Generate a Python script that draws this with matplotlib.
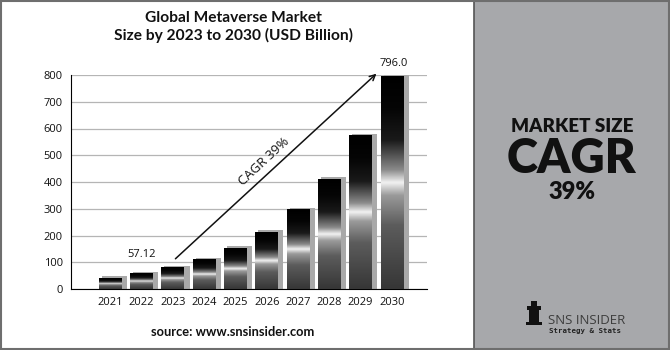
import numpy as np
import matplotlib.pyplot as plt
from matplotlib.colors import LinearSegmentedColormap
from matplotlib.patches import Rectangle

years = ['2021', '2022', '2023', '2024', '2025', '2026', '2027', '2028', '2029', '2030']
values = [41.0, 57.12, 79.4, 110.0, 153.0, 213.0, 296.0, 411.0, 572.0, 796.0]
yticks = [0, 100, 200, 300, 400, 500, 600, 700, 800]
title = 'Global Metaverse Market\nSize by 2023 to 2030 (USD Billion)'
cagr_text = 'CAGR 39%'

# vertical gradient used inside each bar (bottom -> top)
bar_cmap = LinearSegmentedColormap.from_list('barshade', [
    (0.0, '#363636'), (0.30, '#5c5c5c'), (0.44, '#9a9a9a'), (0.50, '#f2f2f2'),
    (0.56, '#8a8a8a'), (0.70, '#1a1a1a'), (0.85, '#050505'), (1.0, '#000000')])
grad = np.linspace(0, 1, 256).reshape(-1, 1)

fig = plt.figure(figsize=(6.7, 3.5), dpi=100)
fig.patch.set_facecolor('white')

# right grey panel + frame
fig.patches.append(Rectangle((474 / 670, 0), 1 - 474 / 670, 1, transform=fig.transFigure,
                             facecolor='#a7a8ab', edgecolor='none', zorder=0))
fig.add_artist(plt.Line2D([474 / 670, 474 / 670], [0, 1], color='#555555', lw=1.2))
fig.patches.append(Rectangle((0.001, 0.003), 0.997, 0.995, transform=fig.transFigure,
                             facecolor='none', edgecolor='#6e6e6e', lw=1.5, zorder=5))

ax = fig.add_axes([71 / 670, 1 - 289 / 350, 356 / 670, 214 / 350])
ax.set_facecolor('none')

x = np.arange(len(years))
w = 0.73
sw = 0.17
for xi, v in zip(x, values):
    # grey side/top shadow
    ax.add_patch(Rectangle((xi - w / 2 + 0.1, 0), w + sw - 0.1, v + 6,
                           facecolor='#a9a9a9', edgecolor='none', zorder=2))
    ax.imshow(grad, extent=(xi - w / 2, xi + w / 2, 0, v), origin='lower',
              cmap=bar_cmap, aspect='auto', zorder=3, interpolation='bilinear')

ax.set_xlim(-1.25, 10.12)
ax.set_ylim(0, 800)
ax.set_yticks(yticks)
ax.set_xticks(x)
ax.set_xticklabels(years)
ax.yaxis.grid(True, color='#b5b5b5', lw=0.9)
ax.set_axisbelow(True)
ax.tick_params(length=0, labelsize=8, pad=6, colors='#111111')
for s in ['top', 'right']:
    ax.spines[s].set_visible(False)
ax.spines['left'].set_color('#000000')
ax.spines['bottom'].set_color('#000000')
for lab in ax.get_xticklabels() + ax.get_yticklabels():
    lab.set_family('Open Sans')

# CAGR arrow and labels
ax.annotate('', xy=(8.57, 812), xytext=(2.02, 106),
            arrowprops=dict(arrowstyle='->', color='#111111', lw=1.1),
            annotation_clip=False, zorder=6)
ax.text(4.9, 478, cagr_text, rotation=43, ha='center', va='center',
        fontsize=9.5, family='Open Sans', color='#111111')
ax.text(1.02, 107, f'{values[1]:.2f}', ha='center', va='bottom', fontsize=8,
        family='Open Sans', color='#111111')
ax.text(9.05, 822, f'{values[-1]:.1f}', ha='center', va='bottom', fontsize=8,
        family='Open Sans', color='#111111', clip_on=False)

# title and source
fig.text(233 / 670, 1 - 27 / 350, title, ha='center', va='center', fontsize=11.2,
         fontweight='bold', family='Lato', linespacing=1.3, color='#111111')
fig.text(233 / 670, 1 - 332 / 350, 'source: www.snsinsider.com', ha='center', va='center',
         fontsize=9.3, fontweight='bold', family='Lato', color='#111111')

# right panel text
fig.text(572 / 670, 1 - 132 / 350, 'MARKET SIZE', ha='center', va='baseline',
         fontsize=13.5, fontweight='heavy', family='Lato', color='#111111')
fig.text(572 / 670, 1 - 173 / 350, 'CAGR', ha='center', va='baseline',
         fontsize=34, fontweight='heavy', family='Lato', color='#111111')
fig.text(572 / 670, 1 - 199 / 350, '39%', ha='center', va='baseline',
         fontsize=17, fontweight='heavy', family='Lato', color='#111111')

# logo
fig.text(548 / 670, 1 - 320 / 350, 'SNS INSIDER', ha='left', va='center',
         fontsize=9.5, family='Open Sans', color='#3d3d3d')
fig.text(549 / 670, 1 - 331 / 350, 'Strategy & Stats', ha='left', va='center',
         fontsize=5.3, family='DejaVu Sans Mono', fontweight='bold', color='#222222')
for (lx, ly, lw_, lh) in [(527, 306, 14, 4), (529, 310, 10, 12), (526, 322, 16, 3),
                          (531, 301, 6, 5)]:
    fig.patches.append(Rectangle((lx / 670, 1 - (ly + lh) / 350), lw_ / 670, lh / 350,
                                 transform=fig.transFigure, facecolor='#111111',
                                 edgecolor='none', zorder=4))

fig.savefig('out.png', dpi=100)
